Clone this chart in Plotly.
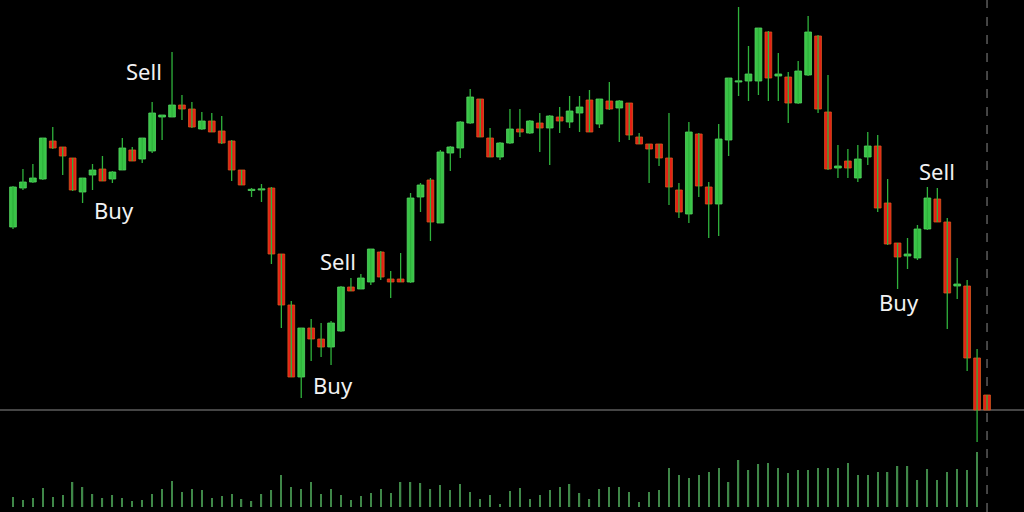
import plotly.graph_objects as go

# ---- data (price in arbitrary points, volume in arbitrary units) ----
opens = [273, 312, 318, 321, 359, 353, 342, 308, 325, 331, 321, 330, 350, 341, 349, 383, 383, 395, 391, 371,
         379, 369, 359, 330, 309.5, 310, 312, 246, 195, 123, 172, 161, 153, 169, 213, 211, 218, 248, 221, 221,
         218, 303, 320, 277, 347, 352, 377, 401, 362, 343, 357, 371, 367, 377, 372, 383, 378, 387, 400, 376,
         399, 392, 397, 363, 356, 356, 342, 310, 286, 366, 313, 296, 360, 418, 419, 419, 468, 424, 423, 397,
         425, 464, 388, 332, 339, 322, 343, 354, 297, 257, 244, 242, 271, 301, 278, 214, 214, 142, 105]
highs = [314, 331, 336, 362, 373, 353, 342, 322, 336, 344, 329, 362, 353, 362, 398, 385, 448, 405, 398, 388,
         387, 384, 360, 330, 312, 316, 313, 246, 199, 172, 181, 177, 179, 214, 222, 226, 251, 249, 229, 247,
         307, 317, 322, 350, 354, 379, 411, 401, 372, 358, 391, 391, 380, 387, 385, 393, 404, 404, 410, 401,
         418, 400, 397, 367, 356, 356, 387, 317, 378, 367, 318, 376, 422, 493, 454, 472, 469, 447, 428, 439,
         484, 465, 425, 355, 351, 355, 368, 365, 321, 257, 262, 275, 313, 312, 282, 242, 220, 151, 105]
lows = [271, 310, 317, 320, 351, 325, 309, 297, 310, 319, 317, 330, 339, 337, 347, 360, 383, 380, 372, 370,
        368, 356, 319, 315, 303, 298, 236, 172, 123, 102, 139, 143, 135, 168, 209, 211, 215, 220, 202, 218,
        217, 288, 259, 277, 329, 342, 376, 363, 343, 340, 356, 363, 366, 348, 335, 367, 372, 368, 368, 372,
        390, 358, 360, 356, 317, 334, 295, 282, 277, 303, 262, 264, 344, 404, 399, 405, 399, 399, 377, 396,
        424, 387, 330, 322, 322, 318, 335, 288, 255, 211, 231, 240, 270, 278, 171, 201, 129, 58, 90]
closes = [313, 318, 322, 362, 352, 344, 310, 322, 330, 319, 328, 352, 339, 362, 387, 385, 395, 391, 373, 379,
          368, 357, 330, 315, 310.5, 311, 246, 195, 123, 172, 161, 153, 177, 213, 209, 222, 251, 223, 218, 218,
          302, 315, 278, 348, 353, 378, 403, 363, 343, 357, 371, 368, 379, 372, 384, 379, 389, 393, 368, 401,
          391, 399, 365, 356, 351, 342, 313, 288, 368, 314, 296, 361, 422, 419, 426, 472, 422, 426, 397, 429,
          468, 391, 331, 334, 332, 341, 354, 292, 256, 243, 246, 271, 302, 278, 207, 216, 142, 90, 90]
volumes = [10, 7, 9, 19, 10, 12, 25, 20, 13, 9, 12, 9, 6, 7, 13, 18, 26, 15, 18, 17,
           9, 11, 13, 8, 6, 13, 17, 32, 20, 18, 25, 13, 18, 12, 7, 11, 14, 18, 14, 25,
           25, 24, 18, 22, 17, 23, 15, 8, 12, 3, 16, 19, 8, 12, 17, 20, 23, 14, 8, 18,
           20, 20, 15, 5, 15, 17, 39, 32, 29, 32, 35, 39, 25, 47, 37, 43, 44, 39, 34, 37,
           37, 39, 39, 39, 44, 32, 32, 35, 35, 41, 41, 27, 38, 27, 35, 38, 37, 55, 0]

label_text = ["Sell", "Buy", "Sell", "Buy", "Sell", "Buy"]
label_x = [13.2, 10.2, 32.7, 32.2, 93.0, 89.1]
label_y = [429, 290, 239, 115, 329, 198]

n = len(opens)
idx = list(range(n))

GREEN = "#38c446"
GREEN_EDGE = "#56d462"
RED = "#e61f15"
RED_EDGE = "#d8581f"
WICK = "#2fb23c"

body_base = [min(o, c) for o, c in zip(opens, closes)]
body_h = [max(abs(c - o), 1.2) for o, c in zip(opens, closes)]
body_fill = [GREEN if c >= o else RED for o, c in zip(opens, closes)]
body_edge = [GREEN_EDGE if c >= o else RED_EDGE for o, c in zip(opens, closes)]

wx, wy = [], []
for i in idx:
    wx += [i, i, None]
    wy += [lows[i], highs[i], None]

fig = go.Figure()

# volume
fig.add_trace(go.Bar(x=idx, y=volumes, width=0.13, marker=dict(color="#3f8748", line=dict(width=0)),
                     yaxis="y2", hoverinfo="skip", showlegend=False))
# wicks
fig.add_trace(go.Scatter(x=wx, y=wy, mode="lines", line=dict(color=WICK, width=1.3),
                         hoverinfo="skip", showlegend=False))
# bodies
fig.add_trace(go.Bar(x=idx, y=body_h, base=body_base, width=0.68,
                     marker=dict(color=body_fill, line=dict(color=body_edge, width=0.8)),
                     hoverinfo="skip", showlegend=False))

# last price line and current bar dashed line
fig.add_shape(type="line", xref="paper", x0=0, x1=1, yref="y", y0=closes[-1], y1=closes[-1],
              line=dict(color="#8a8a8a", width=1), layer="below")
fig.add_shape(type="line", xref="x", x0=idx[-1], x1=idx[-1], yref="paper", y0=0, y1=1,
              line=dict(color="#8a8a8a", width=1, dash="dash"), layer="below")

for t, x, y in zip(label_text, label_x, label_y):
    fig.add_annotation(x=x, y=y, text=t, showarrow=False,
                       font=dict(family="Noto Sans", size=22, color="#f2f2f2"))

fig.update_layout(
    width=1024, height=512,
    margin=dict(l=0, r=0, t=0, b=0),
    paper_bgcolor="#000000", plot_bgcolor="#000000",
    barmode="overlay",
    hovermode=False,
    xaxis=dict(range=[-1.308, 101.72], visible=False, showgrid=False, zeroline=False),
    yaxis=dict(range=[-12, 500], visible=False, showgrid=False, zeroline=False, domain=[0, 1]),
    yaxis2=dict(range=[-5, 507], visible=False, showgrid=False, zeroline=False,
                overlaying="y", domain=[0, 1]),
    showlegend=False,
)

fig.write_html("out.html",
               config={"displayModeBar": False},
               post_script="document.body.style.margin='0px';document.body.style.overflow='hidden';"
                           "document.body.style.background='#000';")
